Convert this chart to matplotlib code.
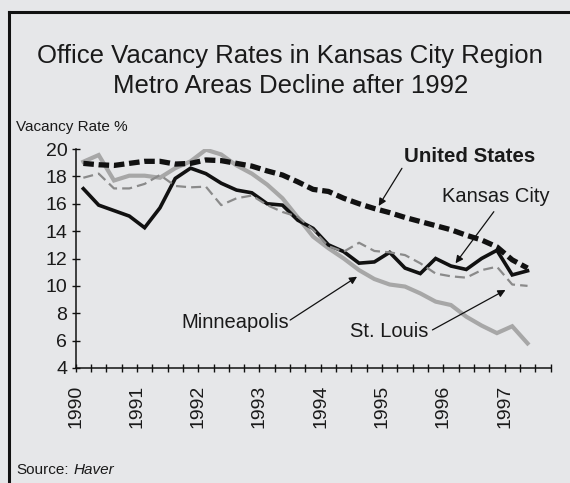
import numpy as np
import matplotlib
matplotlib.use("Agg")
import matplotlib.pyplot as plt
from matplotlib.lines import Line2D

plt.rcParams['font.family'] = ['Liberation Sans', 'DejaVu Sans']

# Quarterly office vacancy rates, 1990Q1 .. 1997Q2
years = ['1990', '1991', '1992', '1993', '1994', '1995', '1996', '1997']
united_states = [18.95, 18.85, 18.8, 18.95, 19.1, 19.1, 18.9, 18.95, 19.2, 19.15,
                 18.95, 18.75, 18.4, 18.1, 17.6, 17.05, 16.9, 16.4, 16.0, 15.65,
                 15.35, 15.0, 14.7, 14.4, 14.1, 13.7, 13.35, 12.85, 11.9, 11.3]
kansas_city = [17.1, 15.9, 15.5, 15.1, 14.25, 15.7, 17.85, 18.6, 18.2, 17.5,
               17.0, 16.8, 16.0, 15.9, 14.8, 14.2, 13.0, 12.5, 11.66, 11.75,
               12.45, 11.3, 10.9, 12.0, 11.45, 11.2, 12.0, 12.6, 10.8, 11.1]
minneapolis = [19.07, 19.56, 17.7, 18.05, 18.05, 17.9, 18.6, 19.1, 19.95, 19.6,
               18.8, 18.2, 17.4, 16.4, 15.0, 13.6, 12.75, 12.0, 11.15, 10.5,
               10.1, 9.95, 9.45, 8.85, 8.6, 7.75, 7.1, 6.55, 7.05, 5.8]
st_louis = [17.9, 18.2, 17.12, 17.12, 17.45, 18.1, 17.3, 17.2, 17.25, 15.9,
            16.4, 16.6, 15.9, 15.4, 15.05, 14.1, 12.9, 12.5, 13.15, 12.55,
            12.45, 12.25, 11.65, 10.9, 10.7, 10.6, 11.15, 11.4, 10.1, 10.0]

bg = '#e6e7e9'
fig = plt.figure(figsize=(5.70, 4.83), dpi=100, facecolor=bg)
ax = fig.add_axes([0.1328, 0.2381, 0.8330, 0.4534], facecolor=bg)

x = np.arange(len(kansas_city)) + 0.5

ax.plot(x, minneapolis, color='#a7a7a7', lw=3.0, solid_joinstyle='miter', zorder=2)
ax.plot(x, kansas_city, color='#111111', lw=2.6, solid_joinstyle='miter', zorder=3)
ax.plot(x, st_louis, color='#8a8a8a', lw=1.6, ls=(0, (4.5, 2.3)), zorder=4)
ax.plot(x, united_states, color='#111111', lw=3.8, ls=(0, (2.0, 0.9)), zorder=5)

ax.set_xlim(0, 31)
ax.set_ylim(4, 20)
ax.set_yticks(np.arange(4, 21, 2))
ax.set_xticks(np.arange(0, 4 * len(years), 4))
ax.set_xticklabels(years, rotation=90)
ax.set_xticks(np.arange(0, 32, 1), minor=True)

for s in ['top', 'right']:
    ax.spines[s].set_visible(False)
for s in ['left', 'bottom']:
    ax.spines[s].set_linewidth(1.1)
    ax.spines[s].set_color('#111111')

ax.tick_params(axis='both', which='both', direction='inout', length=6,
               width=1, color='#111111', labelsize=14, labelcolor='#1a1a1a')
ax.tick_params(axis='y', pad=3)
ax.tick_params(axis='x', which='major', pad=9)

# annotations
arrow = dict(arrowstyle='-|>', color='#111111', lw=0.9, mutation_scale=11,
             shrinkA=0, shrinkB=0)
ax.text(25.7, 19.44, 'United States', ha='center', va='center', fontsize=14.8,
        fontweight='bold', color='#1a1a1a')
ax.annotate('', xy=(19.78, 15.84), xytext=(21.3, 18.59), arrowprops=arrow)
ax.text(27.44, 16.52, 'Kansas City', ha='center', va='center', fontsize=14.5,
        color='#1a1a1a')
ax.annotate('', xy=(24.8, 11.65), xytext=(27.3, 15.42), arrowprops=arrow)
ax.text(6.92, 7.36, 'Minneapolis', ha='left', va='center', fontsize=14.5,
        color='#1a1a1a')
ax.annotate('', xy=(18.37, 10.67), xytext=(14.0, 7.5), arrowprops=arrow)
ax.text(17.93, 6.65, 'St. Louis', ha='left', va='center', fontsize=14.5,
        color='#1a1a1a')
ax.annotate('', xy=(28.06, 9.7), xytext=(23.29, 6.78), arrowprops=arrow)

# titles and notes
fig.text(0.509, 1 - 56 / 483, 'Office Vacancy Rates in Kansas City Region',
         ha='center', va='center', fontsize=18.5, color='#1a1a1a')
fig.text(0.509, 1 - 86 / 483, 'Metro Areas Decline after 1992',
         ha='center', va='center', fontsize=18.5, color='#1a1a1a')
fig.text(16 / 570, 1 - 127 / 483, 'Vacancy Rate %', ha='left', va='center',
         fontsize=11, color='#1a1a1a')
fig.text(16 / 570, 1 - 474 / 483, 'Source:', ha='left', va='baseline',
         fontsize=11, color='#1a1a1a')
fig.text(74 / 570, 1 - 474 / 483, 'Haver', ha='left', va='baseline',
         fontsize=11, style='italic', color='#1a1a1a')

# outer frame (left and top edges)
fx = 9 / 570
fy = 1 - 12 / 483
fig.add_artist(Line2D([fx, fx], [0, fy], transform=fig.transFigure,
                      color='#111111', lw=2.2))
fig.add_artist(Line2D([fx, 1], [fy, fy], transform=fig.transFigure,
                      color='#111111', lw=2.2))

fig.savefig('out.png', dpi=100, facecolor=bg)
